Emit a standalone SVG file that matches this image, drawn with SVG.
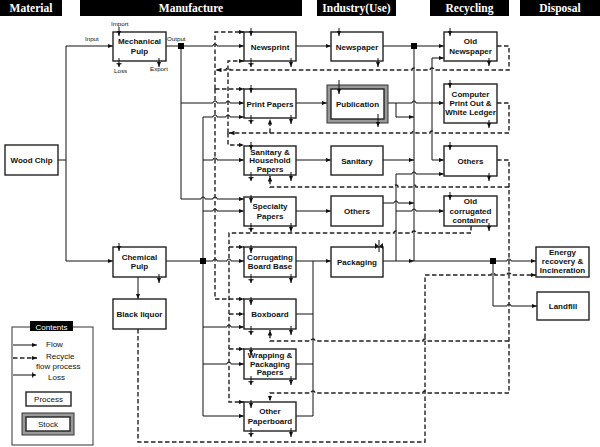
<svg xmlns="http://www.w3.org/2000/svg" width="600" height="447" viewBox="0 0 600 447">
<style>
.ht{font-family:"Liberation Serif","Times New Roman",serif;font-weight:bold;font-size:11.5px;fill:#fff;text-anchor:middle}
.bx{fill:#fff;stroke:#222;stroke-width:1.4}
.st{fill:#999;stroke:#333;stroke-width:1}
.t{font-family:"Liberation Sans",Arial,sans-serif;font-weight:bold;font-size:8px;fill:#111;text-anchor:middle}
.s{font-family:"Liberation Sans",Arial,sans-serif;font-size:6.2px;fill:#111}
.lg{font-family:"Liberation Sans",Arial,sans-serif;font-size:8px;fill:#111}
.f{fill:none;stroke:#111;stroke-width:1}
.d{fill:none;stroke:#222;stroke-width:1.4;stroke-dasharray:4.5 2.5}
.a{marker-end:url(#ar)}
.l{marker-end:url(#ls)}
.nd{fill:#000}
</style>
<defs>
<marker id="ar" viewBox="0 0 10 8" refX="10" refY="4" markerWidth="5.5" markerHeight="4.4" markerUnits="userSpaceOnUse" orient="auto"><path d="M0,0 L10,4 L0,8 z" fill="#111"/></marker>
<marker id="ls" viewBox="0 0 10 10" refX="10" refY="5" markerWidth="5.5" markerHeight="5.5" markerUnits="userSpaceOnUse" orient="auto"><path d="M3,1.5 L10,5 L3,8.5 z" fill="#111"/><path d="M4,0 V10" stroke="#111" stroke-width="1.4"/></marker>
</defs>
<rect width="600" height="447" fill="#fff"/>

<g id="headers">
<rect x="0" y="0" width="62" height="16" fill="#000"/><text class="ht" x="31" y="12">Material</text>
<rect x="80" y="0" width="222" height="16" fill="#000"/><text class="ht" x="191" y="12">Manufacture</text>
<rect x="317" y="0" width="79" height="16" fill="#000"/><text class="ht" x="356.5" y="12">Industry(Use)</text>
<rect x="430" y="0" width="79" height="16" fill="#000"/><text class="ht" x="469.5" y="12">Recycling</text>
<rect x="520" y="0" width="80" height="16" fill="#000"/><text class="ht" x="560" y="12">Disposal</text>
</g>

<g id="connectors">
<path class="f" d="M58,160 H66"/>
<path class="f a" d="M66,261 V46 H113"/>
<path class="f a" d="M66,261 H113"/>
<path class="f" d="M166,46 H178"/>
<path class="f a" d="M184,46 H213 a2,2 0 0 1 4,0 H244"/>
<path class="f a" d="M181,49 V199 H201 a2,2 0 0 1 4,0 H213 a2,2 0 0 1 4,0 H244"/>
<path class="f a" d="M181,103 H213 a2,2 0 0 1 4,0 H226 a2,2 0 0 1 4,0 H244"/>
<path class="f" d="M166,261 H200"/>
<path class="f a" d="M206,261 H213 a2,2 0 0 1 4,0 H227 a2,2 0 0 1 4,0 H244"/>
<path class="f a" d="M203,258 V117 H213 a2,2 0 0 1 4,0 H226 a2,2 0 0 1 4,0 H244"/>
<path class="f a" d="M203,264 V416 H244"/>
<path class="f a" d="M203,160 H213 a2,2 0 0 1 4,0 H244"/>
<path class="f a" d="M203,211 H213 a2,2 0 0 1 4,0 H244"/>
<path class="f a" d="M203,327 H227 a2,2 0 0 1 4,0 H244"/>
<path class="f a" d="M203,364 H227 a2,2 0 0 1 4,0 H244"/>
<path class="f a" d="M138,277 V299"/>
<path class="f a" d="M296,46 H331"/>
<path class="f a" d="M296,103 H327"/>
<path class="f a" d="M296,160 H331"/>
<path class="f a" d="M296,211 H331"/>
<path class="f a" d="M296,261 H331"/>
<path class="f" d="M296,314 H313"/>
<path class="f" d="M296,364 H313"/>
<path class="f" d="M296,416 H313 V261"/>
<path class="f" d="M383,46 H411"/>
<path class="f a" d="M417,46 H444"/>
<path class="f" d="M414,49 V261"/>
<path class="f a" d="M388,103 H412 a2,2 0 0 1 4,0 H444"/>
<path class="f a" d="M396,103 V117 H414"/>
<path class="f a" d="M432,103 V58 H444"/>
<path class="f a" d="M432,103 V160 H444"/>
<path class="f a" d="M383,160 H414"/>
<path class="f a" d="M383,203 H394 a2,2 0 0 1 4,0 H414"/>
<path class="f a" d="M383,261 H414"/>
<path class="f a" d="M396,261 V174 H412 a2,2 0 0 1 4,0 H444"/>
<path class="f a" d="M396,211 H412 a2,2 0 0 1 4,0 H444"/>
<path class="f" d="M414,261 H490"/>
<path class="f a" d="M496,261 H507 a2,2 0 0 1 4,0 H536"/>
<path class="f a" d="M493,264 V306 H507 a2,2 0 0 1 4,0 H537"/>
<rect class="nd" x="178" y="43" width="6" height="6"/>
<rect class="nd" x="200" y="258" width="6" height="6"/>
<rect class="nd" x="411" y="43" width="6" height="6"/>
<rect class="nd" x="490" y="258" width="6" height="6"/>
<path class="d a" d="M497,46 H509 V70 H434 a2,2 0 0 0 -4,0 H416 a2,2 0 0 0 -4,0 H230 a2,2 0 0 0 -4,0 H216"/>
<path class="d a" d="M215,89 V32 H244"/>
<path class="d a" d="M215,89 H244"/>
<path class="d a" d="M215,89 V299 H244"/>
<path class="d a" d="M497,103 H509 V133 H434 a2,2 0 0 0 -4,0 H416 a2,2 0 0 0 -4,0 H229"/>
<path class="d a" d="M270,133 V119"/>
<path class="d a" d="M228,133 V61 H244"/>
<path class="d a" d="M228,133 V145 H244"/>
<path class="d a" d="M497,160 H509 V393 H427 a2,2 0 0 0 -4,0 H315 a2,2 0 0 0 -4,0 H270 V401"/>
<path class="d a" d="M509,187 H416 a2,2 0 0 0 -4,0 H398 a2,2 0 0 0 -4,0 H270 V176"/>
<path class="d a" d="M509,341 H427 a2,2 0 0 0 -4,0 H315 a2,2 0 0 0 -4,0 H270 V330"/>
<path class="d a" d="M471,226 V233 H416 a2,2 0 0 0 -4,0 H398 a2,2 0 0 0 -4,0 H229 V402 H244"/>
<path class="d a" d="M229,247 H244"/>
<path class="d a" d="M229,314 H244"/>
<path class="d a" d="M229,349 H244"/>
<path class="d a" d="M138,329 V442 H425 V275 H491 a2,2 0 0 1 4,0 H507 a2,2 0 0 1 4,0 H536"/>
</g>

<g id="wood-chip"><rect class="bx" x="5" y="145" width="53" height="30"/><text class="t" x="31.5" y="163">Wood Chip</text></g>

<g id="mechanical-pulp"><rect class="bx" x="113" y="32" width="53" height="29"/><text class="t" x="139.5" y="44">Mechanical</text><text class="t" x="139.5" y="54">Pulp</text>
<path class="f a" d="M119,27 V36"/><path class="f l" d="M119,58 V67"/><path class="f a" d="M159,58 V67"/>
<text class="s" x="111" y="26">Import</text><text class="s" x="85" y="41">Input</text><text class="s" x="167" y="41">Output</text><text class="s" x="114" y="73">Loss</text><text class="s" x="150" y="71">Export</text></g>

<g id="chemical-pulp"><rect class="bx" x="113" y="247" width="53" height="30"/><text class="t" x="139.5" y="260">Chemical</text><text class="t" x="139.5" y="269">Pulp</text>
<path class="f a" d="M119,243 V251"/><path class="f a" d="M159,274 V283"/></g>

<g id="black-liquor"><rect class="bx" x="113" y="299" width="53" height="30"/><text class="t" x="139.5" y="317">Black liquor</text></g>

<g id="newsprint"><rect class="bx" x="244" y="32" width="52" height="29"/><text class="t" x="270" y="49.5">Newsprint</text>
<path class="f a" d="M251,28 V36"/><path class="f l" d="M251,58 V67"/><path class="f a" d="M291,58 V67"/></g>

<g id="print-papers"><rect class="bx" x="244" y="89" width="52" height="29"/><text class="t" x="270" y="106.5">Print Papers</text>
<path class="f a" d="M251,85 V93"/><path class="f l" d="M251,115 V124"/><path class="f a" d="M291,115 V124"/></g>

<g id="sanitary-household-papers"><rect class="bx" x="244" y="146" width="52" height="29"/><text class="t" x="270" y="155">Sanitary &amp;</text><text class="t" x="270" y="163">Household</text><text class="t" x="270" y="171.5">Papers</text>
<path class="f a" d="M251,142 V150"/><path class="f l" d="M251,172 V181"/><path class="f a" d="M291,172 V181"/></g>

<g id="specialty-papers"><rect class="bx" x="244" y="197" width="52" height="29"/><text class="t" x="270" y="209">Specialty</text><text class="t" x="270" y="219">Papers</text>
<path class="f a" d="M251,195 V203"/><path class="f l" d="M251,223 V232"/><path class="f a" d="M291,223 V232"/></g>

<g id="corrugating-board-base"><rect class="bx" x="244" y="247" width="52" height="30"/><text class="t" x="270" y="260">Corrugating</text><text class="t" x="270" y="269">Board Base</text>
<path class="f a" d="M251,245 V253"/><path class="f l" d="M251,274 V283"/><path class="f a" d="M291,274 V283"/></g>

<g id="boxboard"><rect class="bx" x="244" y="299" width="52" height="30"/><text class="t" x="270" y="317">Boxboard</text>
<path class="f a" d="M251,297 V305"/><path class="f l" d="M251,326 V335"/><path class="f a" d="M291,326 V335"/></g>

<g id="wrapping-packaging-papers"><rect class="bx" x="244" y="349" width="52" height="30"/><text class="t" x="270" y="358">Wrapping &amp;</text><text class="t" x="270" y="366.5">Packaging</text><text class="t" x="270" y="375">Papers</text>
<path class="f a" d="M251,347 V355"/><path class="f l" d="M251,376 V385"/><path class="f a" d="M291,376 V385"/></g>

<g id="other-paperboard"><rect class="bx" x="244" y="402" width="52" height="29"/><text class="t" x="270" y="414">Other</text><text class="t" x="270" y="424">Paperboard</text>
<path class="f a" d="M251,400 V408"/><path class="f l" d="M251,428 V437"/><path class="f a" d="M291,428 V437"/></g>

<g id="newspaper"><rect class="bx" x="331" y="32" width="52" height="29"/><text class="t" x="357" y="49.5">Newspaper</text>
<path class="f a" d="M339,28 V36"/><path class="f a" d="M378,58 V67"/></g>

<g id="publication"><rect class="st" x="327" y="85" width="61" height="38"/><rect class="bx" x="331" y="89" width="53" height="30"/><text class="t" x="357.5" y="107">Publication</text>
<path class="f a" d="M339,80 V94"/><path class="f a" d="M378,114 V127"/></g>

<g id="sanitary"><rect class="bx" x="331" y="146" width="52" height="29"/><text class="t" x="357" y="163.5">Sanitary</text></g>

<g id="others-use"><rect class="bx" x="331" y="196" width="52" height="30"/><text class="t" x="357" y="214">Others</text></g>

<g id="packaging"><rect class="bx" x="331" y="247" width="52" height="30"/><text class="t" x="357" y="265">Packaging</text>
<path d="M375,243 L378.5,246 L375,249 z M383,243 L379.5,246 L383,249 z" fill="#111"/><path class="f" d="M379,240 V252"/></g>

<g id="old-newspaper"><rect class="bx" x="444" y="32" width="53" height="29"/><text class="t" x="470.5" y="44">Old</text><text class="t" x="470.5" y="54">Newspaper</text>
<path class="f a" d="M450,28 V36"/><path class="f a" d="M489,58 V66"/></g>

<g id="computer-print-out"><rect class="bx" x="444" y="84" width="53" height="39"/><text class="t" x="470.5" y="97">Computer</text><text class="t" x="470.5" y="106">Print Out &amp;</text><text class="t" x="470.5" y="115">White Ledger</text>
<path class="f a" d="M450,80 V88"/><path class="f a" d="M489,120 V128"/></g>

<g id="others-recycling"><rect class="bx" x="444" y="146" width="53" height="30"/><text class="t" x="470.5" y="164">Others</text>
<path class="f a" d="M450,142 V150"/><path class="f a" d="M489,173 V181"/></g>

<g id="old-corrugated-container"><rect class="bx" x="444" y="196" width="53" height="30"/><text class="t" x="470.5" y="204">Old</text><text class="t" x="470.5" y="213.5">corrugated</text><text class="t" x="470.5" y="223">container</text>
<path class="f a" d="M450,192 V200"/><path class="f a" d="M489,223 V231"/></g>

<g id="energy-recovery"><rect class="bx" x="536" y="247" width="53" height="30"/><text class="t" x="562.5" y="255">Energy</text><text class="t" x="562.5" y="264">recovery &amp;</text><text class="t" x="562.5" y="273">Incineration</text></g>

<g id="landfill"><rect class="bx" x="537" y="292" width="52" height="28"/><text class="t" x="563" y="309">Landfill</text></g>

<g id="legend">
<rect x="12" y="327" width="81" height="118" fill="#fff" stroke="#333" stroke-width="1"/>
<rect x="30" y="321" width="43" height="10" fill="#000"/>
<text class="lg" x="51.5" y="329.5" style="fill:#fff" text-anchor="middle">Contents</text>
<path class="f a" d="M13,345 H37"/><text class="lg" x="46" y="347">Flow</text>
<path class="d a" d="M13,358 H37"/><text class="lg" x="46" y="358.5">Recycle</text><text class="lg" x="36" y="368.5">flow process</text>
<path class="f l" d="M13,375 H36"/><text class="lg" x="48" y="379.5">Loss</text>
<rect class="bx" x="26" y="392" width="45" height="14"/><text class="lg" x="48.5" y="402" text-anchor="middle">Process</text>
<rect class="st" x="22" y="413" width="52" height="22"/><rect class="bx" x="26" y="417" width="44" height="14"/><text class="lg" x="48" y="427" text-anchor="middle">Stock</text>
</g>
</svg>
